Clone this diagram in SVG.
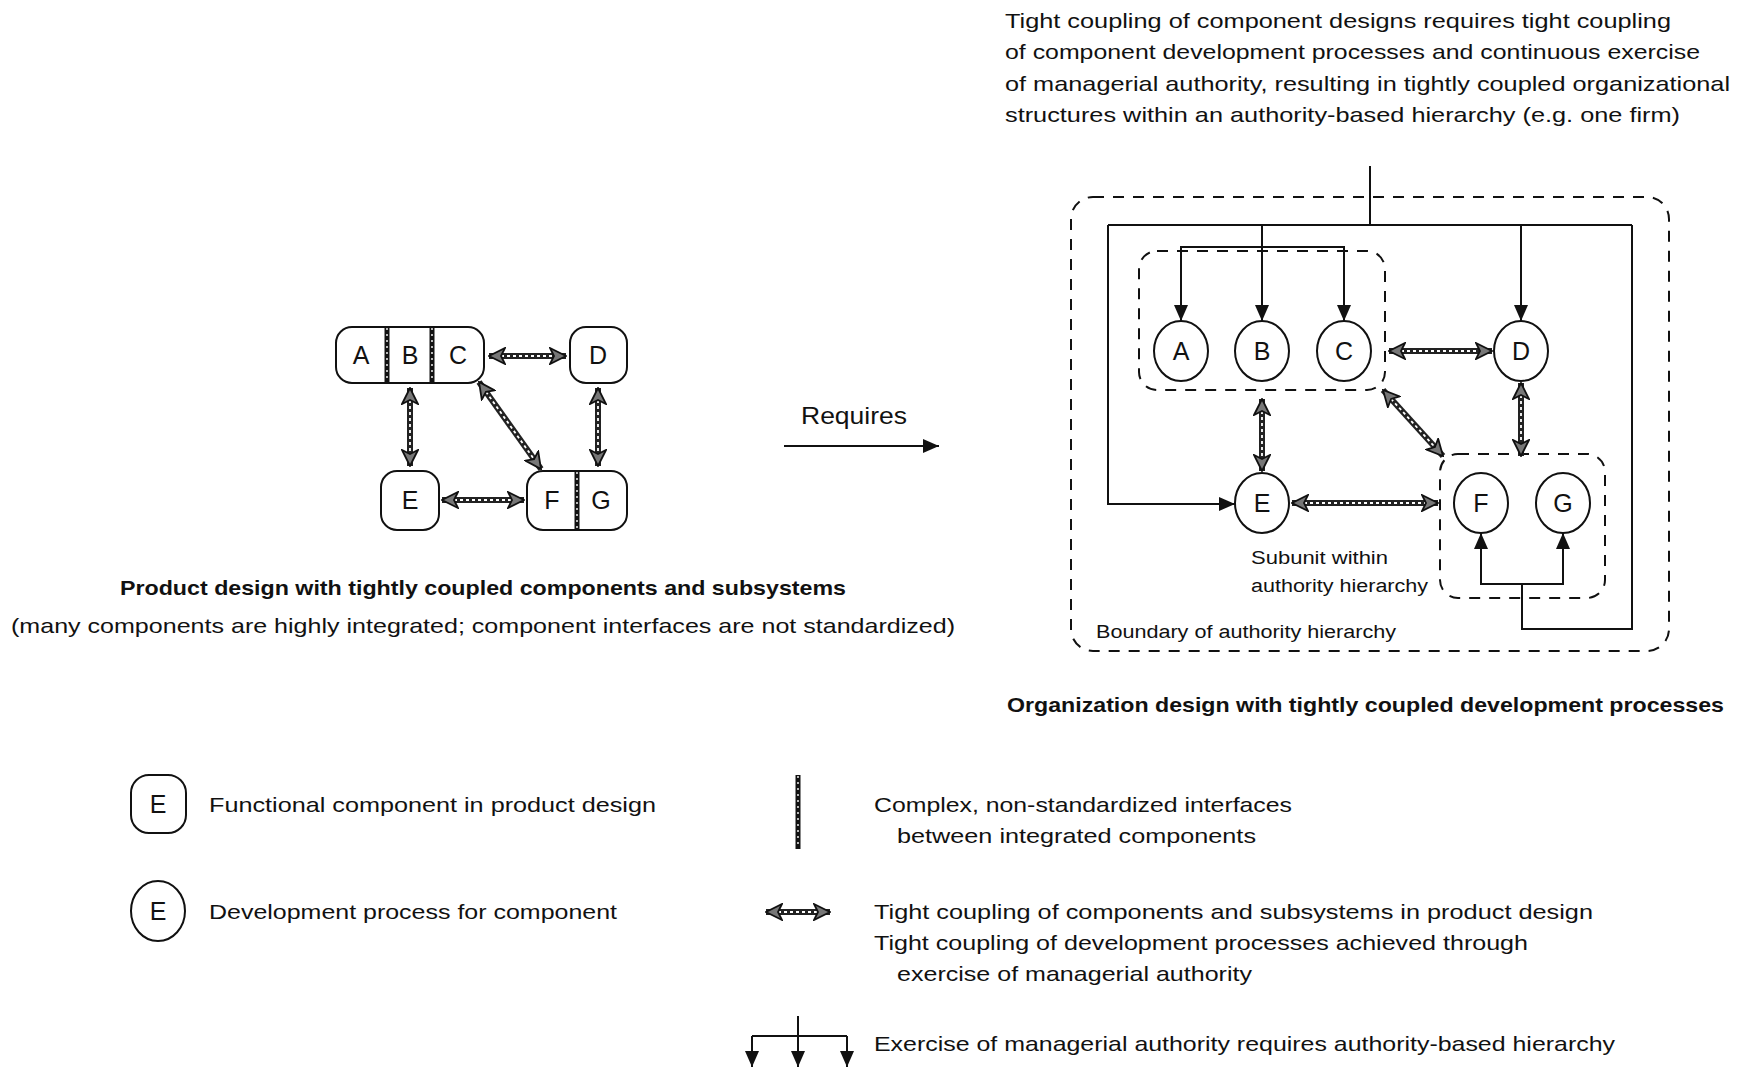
<svg xmlns="http://www.w3.org/2000/svg" width="1737" height="1069" viewBox="0 0 1737 1069">
<style>
text{font-family:"Liberation Sans",Arial,sans-serif;fill:#111}
.t{font-size:21px}
.s{font-size:18px}
.b{font-size:21px;font-weight:bold}
.lbl{font-size:25px;text-anchor:middle}
.box{fill:#fff;stroke:#111;stroke-width:2}
.dash{fill:none;stroke:#111;stroke-width:2;stroke-dasharray:11 9}
.iface{stroke:#111;stroke-width:5;fill:none}
.ifw{stroke:#fff;stroke-width:1.4;stroke-dasharray:2 4;fill:none}
.cp{stroke:#222;stroke-width:6;fill:none}
.cpw{stroke:#fff;stroke-width:1.8;stroke-dasharray:3 3;fill:none;marker-start:url(#cpa);marker-end:url(#cpa)}
.h{stroke:#111;stroke-width:2;fill:none}
.ha{marker-end:url(#ah)}
</style>
<defs>
<marker id="cpa" viewBox="0 0 18 18" markerWidth="18" markerHeight="18" refX="17" refY="9" orient="auto-start-reverse" markerUnits="userSpaceOnUse">
<path d="M1,1 L17,9 L1,17 L5,9 Z" fill="#777" stroke="#111" stroke-width="1.8"/>
</marker>
<marker id="ah" viewBox="0 0 16 14" markerWidth="16" markerHeight="14" refX="16" refY="7" orient="auto" markerUnits="userSpaceOnUse">
<path d="M0,0 L16,7 L0,14 Z" fill="#111"/>
</marker>
</defs>
<rect width="1737" height="1069" fill="#fff"/>

<!-- Left product design -->
<g id="left-ABC">
<rect class="box" x="336" y="327" width="148" height="56" rx="16"/>
<line class="iface" x1="387" y1="327" x2="387" y2="383"/><line class="ifw" x1="387" y1="328" x2="387" y2="382"/>
<line class="iface" x1="432" y1="327" x2="432" y2="383"/><line class="ifw" x1="432" y1="328" x2="432" y2="382"/>
<text class="lbl" x="361" y="364">A</text>
<text class="lbl" x="410" y="364">B</text>
<text class="lbl" x="458" y="364">C</text>
</g>
<g id="left-D">
<rect class="box" x="570" y="327" width="57" height="56" rx="16"/>
<text class="lbl" x="598" y="364">D</text>
</g>
<g id="left-E">
<rect class="box" x="381" y="471" width="58" height="59" rx="16"/>
<text class="lbl" x="410" y="509">E</text>
</g>
<g id="left-FG">
<rect class="box" x="527" y="471" width="100" height="59" rx="16"/>
<line class="iface" x1="577" y1="471" x2="577" y2="530"/><line class="ifw" x1="577" y1="472" x2="577" y2="529"/>
<text class="lbl" x="552" y="509">F</text>
<text class="lbl" x="601" y="509">G</text>
</g>

<!-- Right organization design -->
<g id="boundary">
<rect class="dash" x="1071" y="197" width="598" height="454" rx="22"/>
<text class="s" x="1096" y="638" textLength="300" lengthAdjust="spacingAndGlyphs">Boundary of authority hierarchy</text>
</g>
<g id="subunit-ABC">
<rect class="dash" x="1139" y="251" width="246" height="139" rx="18"/>
</g>
<g id="subunit-FG">
<rect class="dash" x="1440" y="454" width="165" height="144" rx="18"/>
<text class="s" x="1251" y="564" textLength="137" lengthAdjust="spacingAndGlyphs">Subunit within</text>
<text class="s" x="1251" y="592" textLength="177" lengthAdjust="spacingAndGlyphs">authority hierarchy</text>
</g>
<g id="right-A"><ellipse class="box" cx="1181" cy="351" rx="27" ry="30"/><text class="lbl" x="1181" y="360">A</text></g>
<g id="right-B"><ellipse class="box" cx="1262" cy="351" rx="27" ry="30"/><text class="lbl" x="1262" y="360">B</text></g>
<g id="right-C"><ellipse class="box" cx="1344" cy="351" rx="27" ry="30"/><text class="lbl" x="1344" y="360">C</text></g>
<g id="right-D"><ellipse class="box" cx="1521" cy="351" rx="27" ry="30"/><text class="lbl" x="1521" y="360">D</text></g>
<g id="right-E"><ellipse class="box" cx="1262" cy="503" rx="27" ry="30"/><text class="lbl" x="1262" y="512">E</text></g>
<g id="right-F"><ellipse class="box" cx="1481" cy="503" rx="27" ry="30"/><text class="lbl" x="1481" y="512">F</text></g>
<g id="right-G"><ellipse class="box" cx="1563" cy="503" rx="27" ry="30"/><text class="lbl" x="1563" y="512">G</text></g>

<!-- Connectors -->
<g id="connectors">
<!-- left tight coupling -->
<path class="cp" d="M489,356 H566"/><path class="cpw" d="M489,356 H566"/>
<path class="cp" d="M410,388 V466"/><path class="cpw" d="M410,388 V466"/>
<path class="cp" d="M598,388 V466"/><path class="cpw" d="M598,388 V466"/>
<path class="cp" d="M479,382 L541,469"/><path class="cpw" d="M479,382 L541,469"/>
<path class="cp" d="M442,500 H524"/><path class="cpw" d="M442,500 H524"/>
<!-- requires -->
<path class="h ha" d="M784,446 H939"/>
<!-- right tight coupling -->
<path class="cp" d="M1389,351 H1492"/><path class="cpw" d="M1389,351 H1492"/>
<path class="cp" d="M1262,399 V471"/><path class="cpw" d="M1262,399 V471"/>
<path class="cp" d="M1521,383 V456"/><path class="cpw" d="M1521,383 V456"/>
<path class="cp" d="M1383,390 L1443,456"/><path class="cpw" d="M1383,390 L1443,456"/>
<path class="cp" d="M1292,503 H1438"/><path class="cpw" d="M1292,503 H1438"/>
<!-- hierarchy -->
<path class="h" d="M1370,166 V225"/>
<path class="h" d="M1108,225 H1632"/>
<path class="h ha" d="M1108,225 V504 H1235"/>
<path class="h ha" d="M1262,225 V321"/>
<path class="h ha" d="M1262,247 H1181 V321"/>
<path class="h ha" d="M1262,247 H1344 V321"/>
<path class="h ha" d="M1521,225 V321"/>
<path class="h" d="M1632,225 V629 H1522 V584"/>
<path class="h ha" d="M1522,584 H1481 V533"/>
<path class="h ha" d="M1522,584 H1563 V533"/>
</g>

<!-- Texts -->
<g id="texts">
<text class="t" x="1005" y="28" textLength="666" lengthAdjust="spacingAndGlyphs">Tight coupling of component designs requires tight coupling</text>
<text class="t" x="1005" y="59" textLength="695" lengthAdjust="spacingAndGlyphs">of component development processes and continuous exercise</text>
<text class="t" x="1005" y="91" textLength="725" lengthAdjust="spacingAndGlyphs">of managerial authority, resulting in tightly coupled organizational</text>
<text class="t" x="1005" y="122" textLength="675" lengthAdjust="spacingAndGlyphs">structures within an authority-based hierarchy (e.g. one firm)</text>
<text x="801" y="424" font-size="24" textLength="106" lengthAdjust="spacingAndGlyphs">Requires</text>
<text class="b" x="120" y="595" textLength="726" lengthAdjust="spacingAndGlyphs">Product design with tightly coupled components and subsystems</text>
<text class="t" x="11" y="633" textLength="944" lengthAdjust="spacingAndGlyphs">(many components are highly integrated; component interfaces are not standardized)</text>
<text class="b" x="1007" y="712" textLength="717" lengthAdjust="spacingAndGlyphs">Organization design with tightly coupled development processes</text>
</g>

<!-- Legend -->
<g id="legend">
<g id="legend-component">
<rect class="box" x="131" y="775" width="55" height="58" rx="18"/>
<text class="lbl" x="158" y="813" font-size="23">E</text>
<text class="t" x="209" y="812" textLength="447" lengthAdjust="spacingAndGlyphs">Functional component in product design</text>
</g>
<g id="legend-process">
<ellipse class="box" cx="158" cy="911" rx="27" ry="30"/>
<text class="lbl" x="158" y="920" font-size="23">E</text>
<text class="t" x="209" y="919" textLength="408" lengthAdjust="spacingAndGlyphs">Development process for component</text>
</g>
<g id="legend-interface">
<line class="iface" x1="798" y1="775" x2="798" y2="849"/><line class="ifw" x1="798" y1="776" x2="798" y2="848"/>
<text class="t" x="874" y="812" textLength="418" lengthAdjust="spacingAndGlyphs">Complex, non-standardized interfaces</text>
<text class="t" x="897" y="843" textLength="359" lengthAdjust="spacingAndGlyphs">between integrated components</text>
</g>
<g id="legend-coupling">
<path class="cp" d="M766,912 H830"/><path class="cpw" d="M766,912 H830"/>
<text class="t" x="874" y="919" textLength="719" lengthAdjust="spacingAndGlyphs">Tight coupling of components and subsystems in product design</text>
<text class="t" x="874" y="950" textLength="654" lengthAdjust="spacingAndGlyphs">Tight coupling of development processes achieved through</text>
<text class="t" x="897" y="981" textLength="355" lengthAdjust="spacingAndGlyphs">exercise of managerial authority</text>
</g>
<g id="legend-hierarchy">
<path class="h" d="M798,1016 V1036"/>
<path class="h" d="M752,1036 H847"/>
<path class="h ha" d="M752,1036 V1067"/>
<path class="h ha" d="M798,1036 V1067"/>
<path class="h ha" d="M847,1036 V1067"/>
<text class="t" x="874" y="1051" textLength="741" lengthAdjust="spacingAndGlyphs">Exercise of managerial authority requires authority-based hierarchy</text>
</g>
</g>
</svg>
